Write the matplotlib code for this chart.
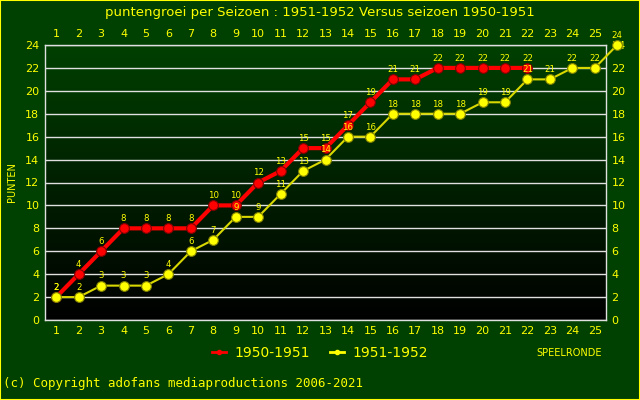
import numpy as np
import matplotlib
matplotlib.use('Agg')
import matplotlib.pyplot as plt
from matplotlib.lines import Line2D

rounds_5051 = list(range(1, 23))
points_5051 = [2, 4, 6, 8, 8, 8, 8, 10, 10, 12, 13, 15, 15, 17, 19, 21, 21, 22, 22, 22, 22, 22]

rounds_5152 = list(range(1, 27))
points_5152 = [2, 2, 3, 3, 3, 4, 6, 7, 9, 9, 11, 13, 14, 16, 16, 18, 18, 18, 18, 19, 19, 21, 21, 22, 22, 24]

x_ticks = list(range(1, 26))
y_ticks = list(range(0, 25, 2))

bg = '#004000'
yel = '#ffff00'

fig = plt.figure(figsize=(6.4, 4), dpi=100, facecolor=bg)
ax = fig.add_axes([45 / 640, 80 / 400, 561 / 640, 275 / 400])

# gradient: green at the top, black at the bottom
grad = np.linspace(1, 0, 256).reshape(-1, 1)
cmap = matplotlib.colors.LinearSegmentedColormap.from_list('g', ['#004000', '#000000'])
ax.imshow(grad, cmap=cmap, aspect='auto', origin='lower', extent=[0.5, 25.5, 0, 24], zorder=0)

ax.set_xlim(0.5, 25.5)
ax.set_ylim(0, 24)
for y in y_ticks:
    ax.axhline(y, color='#e0e0e0', lw=1, zorder=1)

ax.plot(rounds_5051, points_5051, color='#ff0000', lw=3, marker='o', ms=7,
        mfc='#ff0000', mec='#800000', mew=0.8, zorder=3)
ax.plot(rounds_5152, points_5152, color='#d8d800', lw=1.5, marker='o', ms=7,
        mfc=yel, mec='#808000', mew=0.8, zorder=4, clip_on=False)

for x, y in zip(rounds_5051, points_5051):
    ax.text(x, y + 0.45, str(y), color=yel, fontsize=6.2, ha='center', va='bottom', zorder=5)
for x, y in zip(rounds_5152, points_5152):
    ax.text(x, y + 0.45, str(y), color=yel, fontsize=6.2, ha='center', va='bottom', zorder=5,
            clip_on=False)

ax.set_xticks(x_ticks)
ax.set_yticks(y_ticks)
ax.tick_params(axis='both', colors=yel, labelsize=8, length=0, pad=4,
               labeltop=True, labelright=True, labelcolor=yel)
for s in ax.spines.values():
    s.set_color('#e0e0e0')
    s.set_linewidth(1)

ax.set_ylabel('PUNTEN', color=yel, fontsize=7, labelpad=6)

fig.text(0.5, 0.968, 'puntengroei per Seizoen : 1951-1952 Versus seizoen 1950-1951',
         color=yel, fontsize=9.5, ha='center', va='center')
fig.text(0.89, 0.117, 'SPEELRONDE', color=yel, fontsize=7, ha='center', va='center')
fig.text(0.005, 0.042, '(c) Copyright adofans mediaproductions 2006-2021', color=yel,
         fontsize=9, family='DejaVu Sans Mono', ha='left', va='center')

handles = [Line2D([], [], color='#ff0000', lw=2, marker='o', ms=3, mfc='#ff0000'),
           Line2D([], [], color=yel, lw=2, marker='o', ms=3, mfc=yel)]
fig.legend(handles, ['1950-1951', '1951-1952'], loc='center', bbox_to_anchor=(0.5, 0.117),
           ncol=2, frameon=False, handlelength=1.0, handletextpad=0.6, columnspacing=1.5,
           labelcolor=yel, prop={'size': 10})

# yellow outer border
fig.patches.append(plt.Rectangle((0, 0), 1, 1, transform=fig.transFigure, fill=False,
                                 edgecolor=yel, lw=1.5))

fig.savefig('out.png', dpi=100, facecolor=bg)
